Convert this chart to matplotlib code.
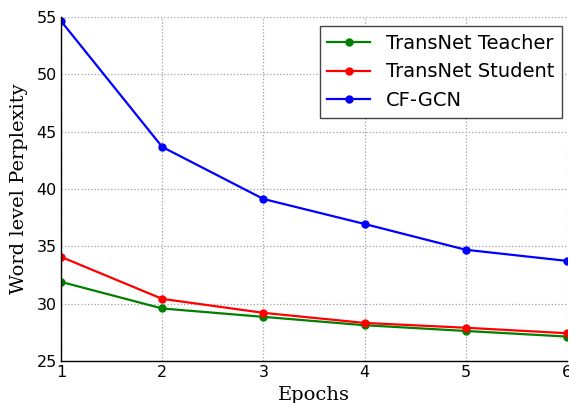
import matplotlib
matplotlib.use("Agg")
import matplotlib.pyplot as plt

# data
epochs = [1, 2, 3, 4, 5, 6]
teacher = [31.9, 29.58, 28.85, 28.12, 27.62, 27.13]
student = [34.08, 30.42, 29.2, 28.32, 27.9, 27.42]
cfgcn = [54.65, 43.67, 39.13, 36.95, 34.7, 33.73]

fig = plt.figure(figsize=(5.69, 4.03), dpi=100)
ax = fig.add_axes([61 / 569, 1 - 361 / 403, (567 - 61) / 569, (361 - 17) / 403])

ax.plot(epochs, teacher, color="green", marker="o", markersize=5, lw=1.6, label="TransNet Teacher")
ax.plot(epochs, student, color="red", marker="o", markersize=5, lw=1.6, label="TransNet Student")
ax.plot(epochs, cfgcn, color="blue", marker="o", markersize=5, lw=1.6, label="CF-GCN")

ax.set_xlim(1, 6)
ax.set_ylim(25, 55)
ax.set_xticks(epochs)
ax.set_yticks(range(25, 56, 5))
ax.grid(True, linestyle=":", color="#a0a0a0", linewidth=0.9)

for s in ["top", "right"]:
    ax.spines[s].set_visible(False)
ax.spines["left"].set_linewidth(1.0)
ax.spines["bottom"].set_linewidth(1.0)
ax.tick_params(length=0, labelsize=11.5, pad=3)

ax.set_xlabel("Epochs", family="DejaVu Serif", fontsize=14, labelpad=4)
ax.set_ylabel("Word level Perplexity", family="DejaVu Serif", fontsize=14, labelpad=6)

leg = ax.legend(loc="upper right", fontsize=14, fancybox=False, framealpha=1,
                borderaxespad=0, bbox_to_anchor=(0.99, 0.974), handlelength=2.2)
leg.get_frame().set_edgecolor("#444444")
leg.get_frame().set_linewidth(1.0)

fig.savefig("out.png", dpi=100)
